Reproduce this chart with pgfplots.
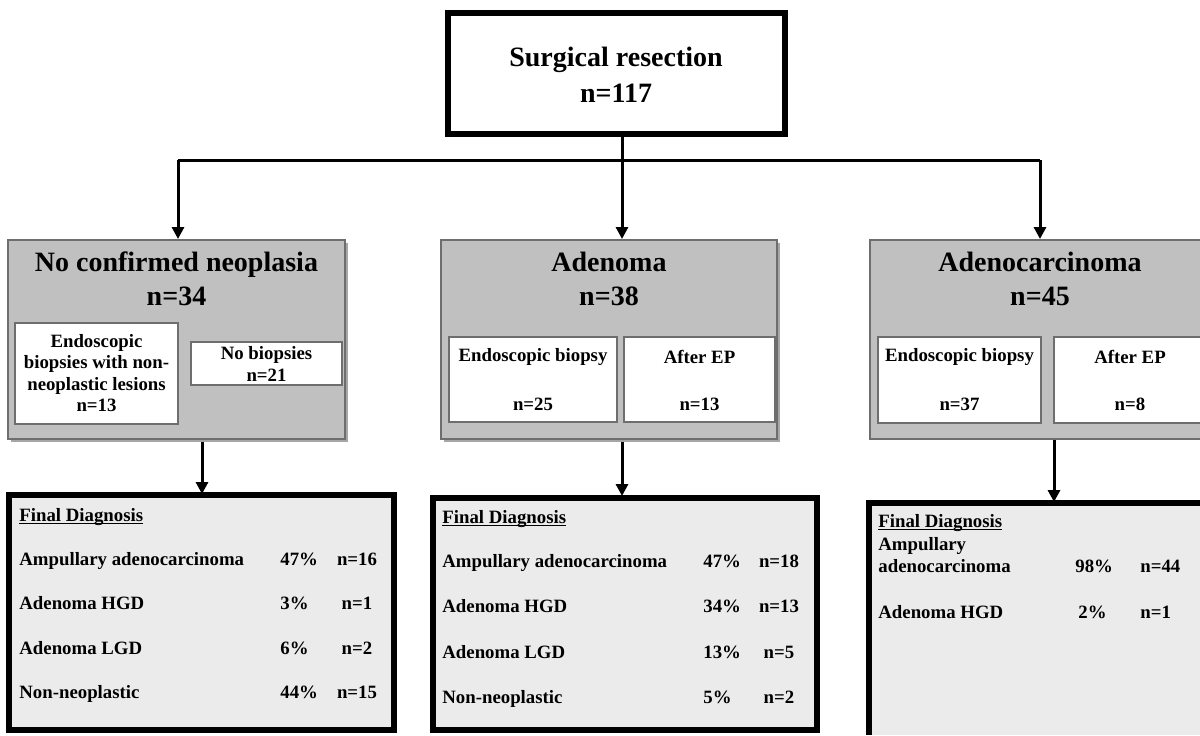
\documentclass[border=0pt]{standalone}
\usepackage{pgfplots}
\pgfplotsset{compat=1.18}
\usepackage{fontspec}
\setmainfont{Liberation Serif}
\usetikzlibrary{arrows.meta}
\definecolor{boxgray}{RGB}{192,192,192}
\definecolor{finalgray}{RGB}{235,235,235}
\definecolor{edgegray}{RGB}{110,110,110}
\newcommand{\fdul}[1]{\leavevmode\setbox0\hbox{#1}\rlap{\rule[-1.3pt]{\wd0}{0.55pt}}\box0}
\begin{document}
\begin{tikzpicture}
\begin{axis}[scale only axis, width=600pt, height=367.5pt,
  xmin=0, xmax=1200, ymin=0, ymax=735, y dir=reverse,
  axis lines=none, clip=false]
% ---------- connectors ----------
\addplot[black, line width=1.5pt, mark=none] coordinates {(622,137) (622,160)};
\addplot[black, line width=1.5pt, mark=none] coordinates {(178,160) (1040,160)};
\addplot[black, line width=1.5pt, mark=none, -{Triangle[length=6pt,width=6pt]}] coordinates {(178,160) (178,239)};
\addplot[black, line width=1.5pt, mark=none, -{Triangle[length=6pt,width=6pt]}] coordinates {(622,160) (622,239)};
\addplot[black, line width=1.5pt, mark=none, -{Triangle[length=6pt,width=6pt]}] coordinates {(1040,160) (1040,239)};
\addplot[black, line width=1.5pt, mark=none, -{Triangle[length=6pt,width=6pt]}] coordinates {(202,439) (202,494)};
\addplot[black, line width=1.5pt, mark=none, -{Triangle[length=6pt,width=6pt]}] coordinates {(622,439) (622,496)};
\addplot[black, line width=1.5pt, mark=none, -{Triangle[length=6pt,width=6pt]}] coordinates {(1054,439) (1054,502)};
% ---------- top box ----------
\draw[line width=3.2pt, fill=white] (448,13) rectangle (785,134);
\node[align=center, font=\fontsize{14}{18}\selectfont\bfseries] at (616,75) {Surgical resection\\n=117};
% ---------- gray boxes ----------
\fill[black!35] (11,243) rectangle (348,442);
\draw[edgegray, line width=0.7pt, fill=boxgray] (8,240) rectangle (345,439);
\fill[black!35] (444,243) rectangle (780,442);
\draw[edgegray, line width=0.7pt, fill=boxgray] (441,240) rectangle (777,439);
\fill[boxgray] (870,240) rectangle (1200,439);
\draw[edgegray, line width=0.7pt] (1200,240) -- (870,240) -- (870,439) -- (1200,439);
\node[align=center, font=\fontsize{14}{17}\selectfont\bfseries] at (176.5,279) {No confirmed neoplasia\\n=34};
\node[align=center, font=\fontsize{14}{17}\selectfont\bfseries] at (609,279) {Adenoma\\n=38};
\node[align=center, font=\fontsize{14}{17}\selectfont\bfseries] at (1040,279) {Adenocarcinoma\\n=45};
% ---------- sub boxes ----------
\draw[edgegray, line width=0.6pt, fill=white] (15,323) rectangle (178,424);
\node[align=center, font=\fontsize{9.4}{10.6}\selectfont\bfseries] at (96.5,373) {Endoscopic\\biopsies with non-\\neoplastic lesions\\n=13};
\draw[edgegray, line width=0.6pt, fill=white] (191,342) rectangle (342,385);
\node[align=center, font=\fontsize{9.4}{10.6}\selectfont\bfseries] at (266.5,364) {No biopsies\\n=21};
\draw[edgegray, line width=0.6pt, fill=white] (449,337) rectangle (617,422);
\node[font=\fontsize{9.4}{10.6}\selectfont\bfseries] at (533,357) {Endoscopic biopsy};
\node[font=\fontsize{9.4}{10.6}\selectfont\bfseries] at (533,404) {n=25};
\draw[edgegray, line width=0.6pt, fill=white] (624,337) rectangle (775,422);
\node[font=\fontsize{9.4}{10.6}\selectfont\bfseries] at (699.5,357) {After EP};
\node[font=\fontsize{9.4}{10.6}\selectfont\bfseries] at (699.5,404) {n=13};
\draw[edgegray, line width=0.6pt, fill=white] (878,337) rectangle (1041,423);
\node[font=\fontsize{9.4}{10.6}\selectfont\bfseries] at (959.5,357) {Endoscopic biopsy};
\node[font=\fontsize{9.4}{10.6}\selectfont\bfseries] at (959.5,404) {n=37};
\fill[white] (1054,337) rectangle (1200,423);
\draw[edgegray, line width=0.6pt] (1200,337) -- (1054,337) -- (1054,423) -- (1200,423);
\node[font=\fontsize{9.4}{10.6}\selectfont\bfseries] at (1130,357) {After EP};
\node[font=\fontsize{9.4}{10.6}\selectfont\bfseries] at (1130,404) {n=8};
% ---------- final diagnosis boxes ----------
\draw[line width=2.6pt, fill=finalgray] (9,495) rectangle (394,730);
\draw[line width=2.6pt, fill=finalgray] (433,498) rectangle (817,730);
\fill[finalgray] (869,503) rectangle (1200,735);
\draw[line width=2.6pt] (1200,503) -- (869,503) -- (869,735);
\tikzset{fd/.style={font=\fontsize{9.4}{11}\selectfont\bfseries, text height=0.7em, text depth=0.2em, inner sep=0pt}}
% left
\node[fd, anchor=west] at (19,516) {\fdul{Final Diagnosis}};
\node[fd, anchor=west] at (19,560) {Ampullary adenocarcinoma};
\node[fd, anchor=west] at (280,560) {47\%};
\node[fd] at (357,560) {n=16};
\node[fd, anchor=west] at (19,604) {Adenoma HGD};
\node[fd, anchor=west] at (280,604) {3\%};
\node[fd] at (357,604) {n=1};
\node[fd, anchor=west] at (19,649) {Adenoma LGD};
\node[fd, anchor=west] at (280,649) {6\%};
\node[fd] at (357,649) {n=2};
\node[fd, anchor=west] at (19,693) {Non-neoplastic};
\node[fd, anchor=west] at (280,693) {44\%};
\node[fd] at (357,693) {n=15};
% center
\node[fd, anchor=west] at (442,518) {\fdul{Final Diagnosis}};
\node[fd, anchor=west] at (442,562) {Ampullary adenocarcinoma};
\node[fd, anchor=west] at (703,562) {47\%};
\node[fd] at (779,562) {n=18};
\node[fd, anchor=west] at (442,607) {Adenoma HGD};
\node[fd, anchor=west] at (703,607) {34\%};
\node[fd] at (779,607) {n=13};
\node[fd, anchor=west] at (442,653) {Adenoma LGD};
\node[fd, anchor=west] at (703,653) {13\%};
\node[fd] at (779,653) {n=5};
\node[fd, anchor=west] at (442,698) {Non-neoplastic};
\node[fd, anchor=west] at (703,698) {5\%};
\node[fd] at (779,698) {n=2};
% right
\node[fd, anchor=west] at (878,522) {\fdul{Final Diagnosis}};
\node[fd, anchor=west] at (878,545) {Ampullary};
\node[fd, anchor=west] at (878,567) {adenocarcinoma};
\node[fd, anchor=west] at (1075,567) {98\%};
\node[fd, anchor=west] at (1140,567) {n=44};
\node[fd, anchor=west] at (878,613) {Adenoma HGD};
\node[fd, anchor=west] at (1078,613) {2\%};
\node[fd, anchor=west] at (1140,613) {n=1};
\end{axis}
\pgfresetboundingbox
\useasboundingbox (current axis.south west) rectangle (current axis.north east);
\end{tikzpicture}
\end{document}
